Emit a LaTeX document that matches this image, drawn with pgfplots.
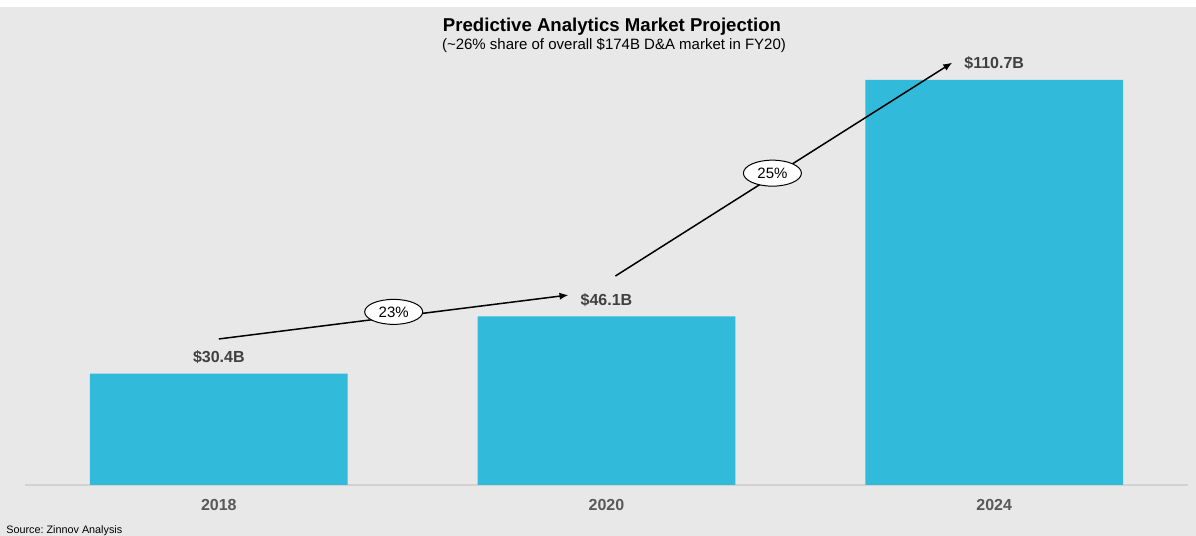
\documentclass[border=0pt]{standalone}
\usepackage{pgfplots}
\pgfplotsset{compat=1.18}
\usepackage{fontspec}
\setmainfont{Liberation Sans}
\usetikzlibrary{shapes.geometric,arrows.meta}
\definecolor{bg}{HTML}{E8E8E8}
\definecolor{barc}{HTML}{31BAD9}
\definecolor{valc}{HTML}{404040}
\definecolor{tickc}{HTML}{595959}
\definecolor{lightline}{HTML}{D2D2D2}
\begin{document}
\frenchspacing
\begin{tikzpicture}
\fill[white] (0,0) rectangle (598pt,268pt);
\fill[bg] (0,0) rectangle (598pt,264.5pt);
\begin{axis}[
  at={(12.5pt,25.5pt)}, anchor=south west,
  scale only axis, width=581.5pt, height=239pt,
  xmin=-0.5, xmax=2.5, ymin=0, ymax=130.6,
  axis x line*=bottom, axis y line=none,
  x axis line style={draw=lightline, line width=0.8pt},
  xtick={0,1,2}, xticklabels={2018,2020,2024},
  major tick length=0pt,
  xticklabel style={font=\fontsize{8}{10}\selectfont\bfseries, text=tickc, anchor=north, inner sep=0pt, yshift=-7pt},
  ytick=\empty,
  clip=false,
  ybar, bar width=0.665,
  point meta=y,
  /pgf/number format/assume math mode=true,
  nodes near coords={\$\pgfmathprintnumber[fixed,precision=1,fixed zerofill,assume math mode=true]{\pgfplotspointmeta}B},
  every node near coord/.append style={font=\fontsize{8}{10}\selectfont\bfseries, text=valc, anchor=base, inner sep=0pt, yshift=5.5pt},
]
\addplot[fill=barc, draw=none] coordinates {(0,30.4) (1,46.1) (2,110.7)};
\draw[-{Latex[length=4.5pt,width=3.6pt]}, line width=0.75pt] (axis cs:0.0,39.9) -- (axis cs:0.902,51.9);
\node[ellipse, draw, line width=0.5pt, fill=white, minimum width=29pt, minimum height=12.5pt, inner sep=0pt, font=\fontsize{7.5}{9}\selectfont] at (axis cs:0.451,47.3) {23\%};
\draw[-{Latex[length=4.5pt,width=3.6pt]}, line width=0.75pt] (axis cs:1.023,57.1) -- (axis cs:1.892,115.4);
\node[ellipse, draw, line width=0.5pt, fill=white, minimum width=29pt, minimum height=13pt, inner sep=0pt, font=\fontsize{7.5}{9}\selectfont] at (axis cs:1.428,85.2) {25\%};
\end{axis}
\node[anchor=base, inner sep=0pt, font=\fontsize{9.3}{11}\selectfont\bfseries] at (306pt,252pt) {Predictive Analytics Market Projection};
\node[anchor=base, inner sep=0pt, font=\fontsize{7.5}{9}\selectfont] at (307pt,243pt) {(\textasciitilde 26\% share of overall \$174B D\&A market in FY20)};
\node[anchor=base west, inner sep=0pt, font=\fontsize{5.4}{6}\selectfont] at (3pt,1.2pt) {Source: Zinnov Analysis};
\end{tikzpicture}
\end{document}
